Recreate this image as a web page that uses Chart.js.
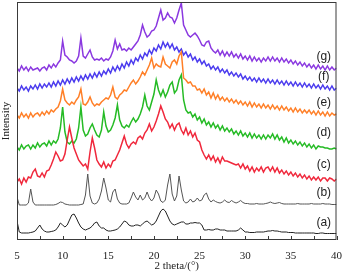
<!DOCTYPE html>
<html>
<head>
<meta charset="utf-8">
<script src="https://cdn.jsdelivr.net/npm/chart.js@4"></script>
<style>
  html, body { margin: 0; padding: 0; background: #fff; }
  #wrap { width: 344px; height: 277px; }
</style>
</head>
<body>
<div id="wrap"><canvas id="xrdChart" width="344" height="277"></canvas></div>
<script>
/* ---------------- DATA ---------------- */

// samples every 0.25 degree from 5 to 40 (2 theta)
const X_START = 5;
const X_STEP = 0.25;
const X_TICKS = [5, 10, 15, 20, 25, 30, 35, 40];
const MINOR_TICKS = [7.5, 12.5, 17.5, 22.5, 27.5, 32.5, 37.5];

const SERIES_A = [
  19, 8, 7, 7, 7, 7, 7.5, 8, 9, 12, 15, 11, 9, 8, 8, 8.5, 9, 10, 13, 17,
  15, 13, 15, 20, 25, 26, 22, 17, 13, 11, 10, 11, 12, 14, 17, 18, 14, 12, 12, 10,
  9, 9, 9.5, 10, 11, 13, 16, 19, 18, 15, 14, 14, 15, 15, 14, 16, 18, 19, 17, 15,
  16, 19, 24, 29, 31, 29, 24, 19, 16, 15, 16, 17, 18, 18, 16, 16, 17, 17, 17.5, 17,
  17, 15, 10, 10, 10.5, 10, 10, 11, 11, 10, 10, 10, 9, 9, 9, 9, 9, 10, 12, 10,
  8, 8, 7.5, 7.5, 7.5, 8, 8, 8, 8, 8.5, 9, 9, 9.5, 9, 9, 8.5, 8, 8, 8, 7.5,
  7.5, 7.5, 7, 7, 7, 7, 7, 7, 7, 7, 7, 6.5, 6.5, 7, 7, 6.5, 6.5, 6.5, 6.5, 6.5,
  6.5
];

const SERIES_B = [
  43, 35, 35, 35, 35, 37, 51, 38, 35, 35, 35, 35, 35, 35, 35, 35, 35, 35.5, 36.5, 38,
  37.5, 36, 35.5, 35, 35, 35, 35, 35, 35.5, 36, 45, 66, 44, 37, 36, 37, 41, 49, 62, 52,
  40, 38, 48, 51, 41, 37, 36, 36, 36, 37, 42, 48, 43, 40, 45, 40, 42, 48, 42, 39,
  42, 50, 46, 39, 37.5, 40, 55, 66, 46, 39, 44, 64, 50, 39, 37, 38, 41, 38, 39, 42,
  39, 40, 45, 47, 41, 38, 40, 38.5, 37.5, 37, 38, 40, 38, 37.5, 39.5, 38, 37, 38, 39.5, 37.5,
  36.5, 36.5, 36, 36, 36, 36.5, 36, 36, 36, 36.5, 37, 38, 37, 36.5, 37, 37.5, 36.5, 36, 36, 36,
  36, 36, 36, 36.5, 36, 36, 36, 36, 36, 36.5, 36, 36, 36, 36, 36.5, 36, 36, 36, 35.5, 35.5,
  35.5
];

const SERIES_C = [
  58, 61, 56, 62, 58, 63, 62, 68, 71, 64, 63, 67, 63, 69, 70, 75, 81, 88, 84, 79,
  80, 86, 100, 113, 102, 92, 86, 80, 77, 74, 76, 71, 88, 102, 92, 80, 76, 73, 78, 72,
  76, 73, 79, 80, 85, 90, 97, 104, 96, 92, 96, 98, 96, 102, 104, 101, 107, 110, 116, 109,
  113, 119, 126, 134, 128, 121, 118, 112, 116, 110, 115, 117, 110, 106, 112, 105, 109, 103, 107, 100,
  98, 90, 85, 81, 85, 80, 84, 78, 82, 77, 83, 79, 79, 78, 77, 76, 75, 76, 72, 76,
  71, 74, 69, 73, 68, 72, 69, 73, 68, 72, 73, 69, 73, 68, 72, 67, 70, 66, 69, 65,
  68, 64, 67, 63, 66, 62, 65, 61, 64, 60, 63, 60, 63, 59, 62, 62, 59, 62, 61, 59,
  61
];

const SERIES_D = [
  93, 90, 95, 91, 94, 95, 91, 95, 92, 97, 93, 96, 97, 94, 99, 95, 99, 97, 101, 112,
  133, 108, 98, 96, 99, 97, 101, 112, 133, 110, 104, 106, 112, 116, 110, 105, 103, 110, 128, 114,
  108, 110, 115, 122, 135, 120, 114, 112, 115, 113, 118, 122, 118, 121, 126, 133, 145, 134, 130, 138,
  146, 160, 150, 144, 150, 143, 148, 155, 158, 147, 150, 160, 165, 140, 130, 127, 128, 123, 126, 120,
  123, 117, 121, 115, 118, 113, 117, 112, 115, 110, 114, 109, 112, 108, 111, 106, 109, 105, 109, 104,
  107, 103, 107, 102, 106, 102, 105, 101, 105, 101, 105, 102, 106, 101, 105, 100, 103, 98, 102, 97,
  100, 96, 99, 95, 98, 94, 97, 93, 96, 92, 95, 91, 94, 93, 93, 92, 92, 91, 91, 92,
  91
];

const SERIES_E = [
  125, 122, 127, 123, 126, 122, 127, 123, 126, 127, 124, 128, 125, 129, 126, 130, 128, 131, 133, 139,
  151, 140, 137, 135, 138, 136, 140, 143, 151, 136, 135, 138, 143, 137, 134, 136, 135, 138, 140, 142,
  141, 145, 153, 143, 141, 145, 147, 150, 149, 153, 157, 160, 156, 159, 163, 168, 165, 170, 175, 182,
  172, 176, 174, 173, 183, 176, 174, 172, 178, 180, 176, 184, 188, 162, 160, 157, 158, 154, 154, 150,
  151, 147, 151, 145, 148, 142, 147, 141, 145, 140, 143, 139, 142, 138, 141, 137, 140, 136, 139, 135,
  138, 134, 138, 133, 137, 133, 136, 132, 136, 132, 135, 131, 135, 131, 134, 130, 134, 130, 133, 129,
  132, 128, 132, 128, 131, 127, 130, 127, 130, 126, 129, 125, 129, 125, 128, 124, 128, 124, 127, 125,
  126
];

const SERIES_F = [
  152, 149, 154, 150, 153, 149, 154, 151, 155, 151, 156, 152, 156, 153, 157, 153, 158, 154, 159, 155,
  160, 156, 161, 157, 162, 158, 163, 159, 164, 160, 165, 161, 166, 162, 167, 163, 168, 164, 169, 166,
  171, 167, 173, 169, 174, 170, 176, 172, 178, 174, 180, 176, 182, 179, 185, 181, 187, 184, 190, 186,
  192, 189, 195, 191, 198, 193, 197, 192, 196, 190, 193, 188, 191, 185, 188, 183, 186, 180, 183, 178,
  181, 176, 179, 174, 176, 171, 174, 170, 173, 168, 171, 167, 170, 165, 168, 164, 167, 163, 166, 161,
  164, 160, 163, 159, 162, 158, 162, 158, 161, 157, 161, 157, 160, 156, 160, 156, 159, 155, 159, 155,
  158, 154, 158, 154, 157, 153, 157, 153, 156, 152, 156, 152, 155, 151, 155, 151, 154, 150, 154, 150,
  152
];

const SERIES_G = [
  172, 169, 174, 170, 173, 169, 173, 170, 171, 172, 169, 172, 173, 170, 175, 172, 176, 173, 177, 180,
  199, 185, 183, 180, 179, 177, 179, 184, 202, 184, 182, 186, 190, 183, 180, 181, 180, 182, 179, 181,
  180, 183, 189, 200, 191, 196, 190, 191, 189, 192, 190, 193, 196, 199, 205, 215, 208, 203, 205, 209,
  210, 214, 222, 230, 220, 222, 227, 223, 222, 217, 222, 230, 237, 215, 210, 205, 203, 205, 207, 204,
  200, 195, 194, 198, 199, 192, 189, 187, 190, 185, 189, 184, 188, 184, 188, 183, 186, 182, 186, 181,
  184, 180, 184, 179, 183, 179, 182, 178, 182, 179, 183, 179, 183, 179, 182, 178, 182, 178, 181, 177,
  180, 176, 179, 175, 178, 174, 177, 173, 176, 172, 175, 171, 175, 171, 174, 170, 174, 170, 173, 170,
  172
];

const SERIES_COLORS = ["#222222", "#555555", "#f0283c", "#25bb25", "#ff7f27", "#4b3bee", "#8a38e0"];
const LABEL_TEXT = ["(a)", "(b)", "(c)", "(d)", "(e)", "(f)", "(g)"];
const LABEL_X = 38.6;
const LABEL_Y = [17, 47, 75, 107, 137, 163, 183];

/* ---------------- PLUGINS ---------------- */

// frame round the plot, short inward ticks, (a)..(g) captions
const framePlugin = {
  id: "frame",
  afterDraw(chart) {
    const ctx = chart.ctx;
    const area = chart.chartArea;
    const xs = chart.scales.x;
    const ys = chart.scales.y;

    ctx.save();
    ctx.strokeStyle = "#3a3a3a";
    ctx.lineWidth = 1;
    ctx.strokeRect(area.left + 0.5, area.top + 0.5, area.width - 1, area.height - 1);

    ctx.beginPath();
    X_TICKS.concat(MINOR_TICKS).forEach(v => {
      const px = Math.round(xs.getPixelForValue(v)) + 0.5;
      ctx.moveTo(px, area.bottom);
      ctx.lineTo(px, area.bottom - 4);
    });
    ctx.stroke();

    ctx.fillStyle = "#222";
    ctx.font = "12px 'Liberation Sans', Arial, sans-serif";
    ctx.textAlign = "center";
    ctx.textBaseline = "middle";
    LABEL_TEXT.forEach((t, i) => {
      ctx.fillText(t, xs.getPixelForValue(LABEL_X), ys.getPixelForValue(LABEL_Y[i]));
    });
    ctx.restore();
  }
};

/* ---------------- CHART ---------------- */

function toPoints(values) {
  return values.map((y, i) => ({ x: X_START + i * X_STEP, y: y }));
}

function renderChart() {
  const all = [SERIES_A, SERIES_B, SERIES_C, SERIES_D, SERIES_E, SERIES_F, SERIES_G];

  const datasets = all.map((vals, i) => ({
    label: LABEL_TEXT[i],
    data: toPoints(vals),
    borderColor: SERIES_COLORS[i],
    borderWidth: i < 2 ? 1 : 1.5,
    pointRadius: 0,
    tension: 0,
    fill: false
  }));

  const serif = "'Liberation Serif', 'Times New Roman', serif";

  new Chart(document.getElementById("xrdChart"), {
    type: "line",
    data: { datasets: datasets },
    plugins: [framePlugin],
    options: {
      responsive: false,
      animation: false,
      layout: { padding: { top: 2, right: 7, left: 0, bottom: 0 } },
      plugins: {
        legend: { display: false },
        tooltip: { enabled: false }
      },
      scales: {
        x: {
          type: "linear",
          min: 5,
          max: 40,
          afterFit: s => { s.height = 37; },
          afterBuildTicks: s => { s.ticks = X_TICKS.map(v => ({ value: v })); },
          grid: { display: false },
          border: { display: false },
          ticks: {
            padding: 2,
            color: "#222",
            font: { family: serif, size: 11 }
          },
          title: {
            display: true,
            text: "2 theta/(°)",
            color: "#222",
            padding: { top: 0, bottom: 4 },
            font: { family: serif, size: 11 }
          }
        },
        y: {
          min: 0,
          max: 238,
          afterFit: s => { s.width = 17; },
          grid: { display: false, drawTicks: false },
          border: { display: false },
          ticks: { display: false },
          title: {
            display: true,
            text: "Intensity",
            color: "#222",
            padding: { top: 0, bottom: 0 },
            font: { family: serif, size: 11 }
          }
        }
      }
    }
  });
}

renderChart();
</script>
</body>
</html>
